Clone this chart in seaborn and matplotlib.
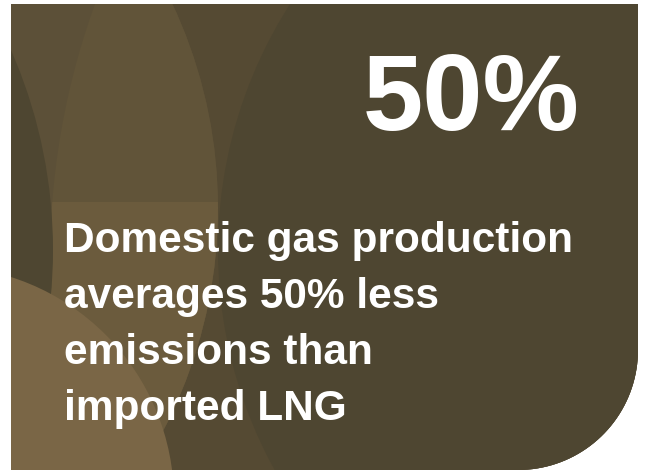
import numpy as np
import matplotlib
matplotlib.use('Agg')
import matplotlib.pyplot as plt
from matplotlib.path import Path
from matplotlib.patches import PathPatch, Circle
from matplotlib.transforms import Bbox, TransformedBbox
import seaborn as sns

# text content
headline = "50%"
body_lines = ["Domestic gas production", "averages 50% less", "emissions than", "imported LNG"]

# colours of the panel and its overlapping circles
base_color = '#4E4631'
right_color = '#554A33'
left_color = '#5C5038'
lens_color = '#615439'
lens_low_color = '#6B5B3D'
corner_color = '#7A6646'

sns.set_theme(style='white')
plt.rcParams['font.family'] = ['Liberation Sans', 'DejaVu Sans']

fig = plt.figure(figsize=(6.46, 4.70), dpi=100)
fig.patch.set_facecolor('white')
# axes covers the panel box, in pixel units
left, top, right, bottom = 11, 4, 638, 470
ax = fig.add_axes([left / 646, 0, (right - left) / 646, (bottom - top) / 470])
ax.set_xlim(left, right)
ax.set_ylim(bottom, top)
ax.axis('off')

# panel outline with a big rounded bottom-right corner
radius = 120
theta = np.linspace(0, np.pi / 2, 40)
arc = np.column_stack([right - radius + radius * np.cos(theta), bottom - radius + radius * np.sin(theta)])
verts = np.vstack([[[left, top], [right, top]], arc, [[left, bottom], [left, top]]])
panel = PathPatch(Path(verts, closed=True), facecolor=base_color, edgecolor='none', zorder=1)
ax.add_patch(panel)

def add_circle(center, r, color, z, clip=None, box=None):
	c = Circle(center, r, facecolor=color, edgecolor='none', zorder=z)
	ax.add_patch(c)
	if box is not None:
		c.set_clip_box(TransformedBbox(Bbox(box), ax.transData))
	c.set_clip_path(clip if clip is not None else panel)
	return c

circle_y = add_circle((801, 260), 751, right_color, 2)
add_circle((-262, 208), 480, left_color, 3)
add_circle((-262, 208), 480, lens_color, 4, clip=circle_y)
add_circle((-262, 208), 480, lens_low_color, 5, clip=circle_y, box=[[left, 202], [right, bottom]])
add_circle((674, 250), 456, base_color, 6)
add_circle((-444, 250), 497, base_color, 7)
add_circle((-60, 500), 234, corner_color, 8)

ax.text(580, 130, headline, color='white', fontsize=78, fontweight='bold',
	ha='right', va='baseline', zorder=10)
for i, line in enumerate(body_lines):
	ax.text(64, 252 + 56 * i, line, color='white', fontsize=30.5, fontweight='bold',
		ha='left', va='baseline', zorder=10)

fig.savefig('out.png', dpi=100, facecolor='white')
